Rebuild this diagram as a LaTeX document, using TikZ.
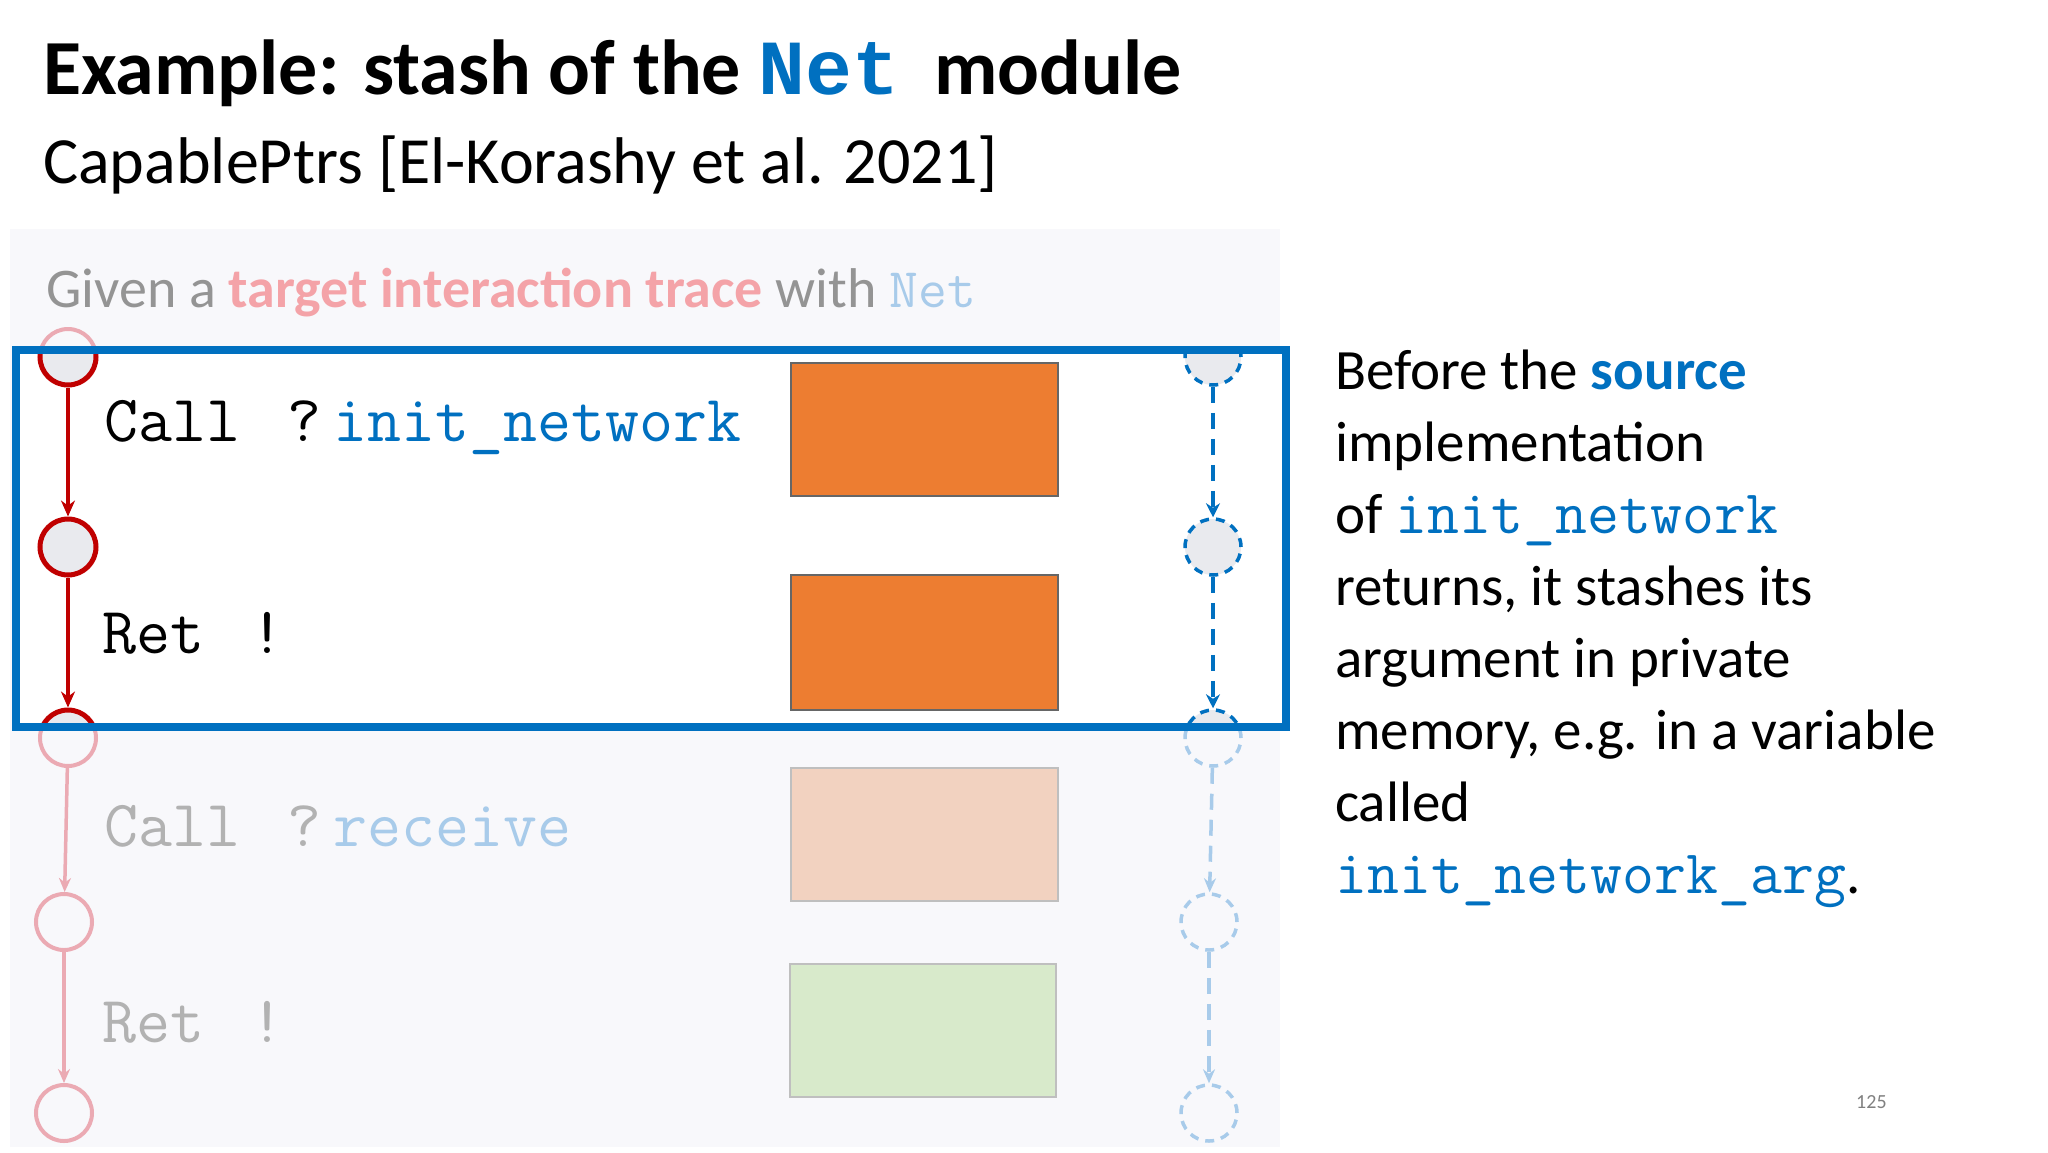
\documentclass[tikz,border=0pt]{standalone}
\usepackage{fontspec}
\setmainfont{Carlito}
\newfontfamily\mono{Latin Modern Mono}
\newfontfamily\monob{Liberation Mono}
\usetikzlibrary{arrows.meta}
\definecolor{myred}{HTML}{C00000}
\definecolor{myblue}{HTML}{0070C0}
\definecolor{myorange}{HTML}{ED7D31}
\definecolor{fadeorange}{HTML}{F2D2C0}
\definecolor{fadegreen}{HTML}{D8EACB}
\definecolor{fadered}{HTML}{EBAAB3}
\definecolor{fadeblue}{HTML}{A8CBEA}
\definecolor{panel}{HTML}{F8F8FB}
\definecolor{cfill}{HTML}{E9EAEE}
\definecolor{pink}{HTML}{F4A3A8}
\tikzset{
 st/.style={circle,draw=myred,line width=5pt,fill=cfill,minimum size=56pt,inner sep=0pt},
 fst/.style={circle,draw=fadered,line width=4pt,fill=panel,minimum size=56pt,inner sep=0pt},
 dst/.style={circle,draw=myblue,line width=3.5pt,dash pattern=on 9pt off 7pt,fill=cfill,minimum size=56pt,inner sep=0pt},
 fdst/.style={circle,draw=fadeblue,line width=3.5pt,dash pattern=on 9pt off 7pt,fill=panel,minimum size=56pt,inner sep=0pt},
 rarr/.style={draw=myred,line width=4pt,-{Stealth[length=16pt,width=14pt]}},
 farr/.style={draw=fadered,line width=3.5pt,-{Stealth[length=14pt,width=12pt]}},
 barr/.style={draw=myblue,line width=4pt,dash pattern=on 16pt off 10pt,-{Stealth[length=14pt,width=14pt]}},
 fbarr/.style={draw=fadeblue,line width=3.5pt,dash pattern=on 16pt off 10pt,-{Stealth[length=14pt,width=12pt]}},
 box/.style={draw=black!60,line width=2pt,fill=myorange},
 txt/.style={anchor=base west,inner sep=0pt},
 code/.style={txt,font=\fontsize{66}{70}\selectfont\mono},
}
\begin{document}
\begin{tikzpicture}[x=1pt,y=-1pt]
\useasboundingbox (0,0) rectangle (2048,1152);
\fill[white] (0,0) rectangle (2048,1152);
\node[txt,font=\fontsize{78}{82}\selectfont\bfseries] (title) at (43,94) {Example: stash of the {\monob\bfseries\color{myblue}Net}\ \ module};
\node[txt,font=\fontsize{66}{70}\selectfont] (sub) at (43,183) {CapablePtrs [El-Korashy et al. 2021]};
\fill[panel] (10,229) rectangle (1280,1147);
\node[txt,font=\fontsize{56}{60}\selectfont,text=black!42] (given) at (46,307) {Given a {\bfseries\color{pink}target interaction trace} with {\mono\color{fadeblue}Net}};
% faded lower part
\node[fst] (f1) at (68,357) {};
\node[fst] (f3) at (68,738) {};
\node[fst] (f4) at (64,922) {};
\node[fst] (f5) at (64,1113) {};
\draw[farr] (f3) -- (f4);
\draw[farr] (f4) -- (f5);
\node[fdst] (g3) at (1213,738) {};
\node[fdst] (g4) at (1209,922) {};
\node[fdst] (g5) at (1209,1113) {};
\draw[fbarr] (g3) -- (g4);
\draw[fbarr] (g4) -- (g5);
\node[code,text=black!30] (c2) at (104,846) {Call};
\node[code,text=black!30] (q2) at (287,846) {?};
\node[code,text=fadeblue] (rc) at (333,846) {receive};
\node[code,text=black!30] (r2) at (102,1042) {Ret};
\node[code,text=black!30] (e2) at (250,1042) {!};
\draw[draw=black!25,line width=2pt,fill=fadeorange] (791,768) rectangle (1058,901);
\draw[draw=black!25,line width=2pt,fill=fadegreen] (790,964) rectangle (1056,1097);
% blue box
\fill[white] (16,350) rectangle (1286,727);
\begin{scope}
\clip (16,350) rectangle (1286,727);
\node[st] (a1) at (68,357) {};
\node[st] (a3) at (68,738) {};
\node[dst] (b1) at (1213,357) {};
\node[dst] (b3) at (1213,738) {};
\end{scope}
\node[st] (a2) at (68,547) {};
\node[dst] (b2) at (1213,547) {};
\draw[rarr] (a1) -- (a2);
\draw[rarr] (a2) -- (a3);
\draw[barr] (b1) -- (b2);
\draw[barr] (b2) -- (b3);
\draw[myblue,line width=8pt] (16,350) rectangle (1286,727);
\node[code] (c1) at (104,441) {Call};
\node[code] (q1) at (287,441) {?};
\node[code,text=myblue] (in) at (333,441) {init\_network};
\node[code] (r1) at (102,653) {Ret};
\node[code] (e1) at (250,653) {!};
\draw[box] (791,363) rectangle (1058,496);
\draw[box] (791,575) rectangle (1058,710);
% right text
\node[txt,font=\fontsize{57}{72}\selectfont,align=left,anchor=north west] (desc) at (1335,350) {Before the {\bfseries\color{myblue}source}\\implementation\\of {\mono\fontsize{62}{72}\selectfont\color{myblue}init\_network}\\returns, it stashes its\\argument in private\\memory, e.g. in a variable\\called\\{\mono\fontsize{62}{72}\selectfont\color{myblue}init\_network\_arg}.};
\node[txt,font=\fontsize{20}{24}\selectfont,text=black!50] (pg) at (1856,1108) {125};
\end{tikzpicture}
\end{document}
